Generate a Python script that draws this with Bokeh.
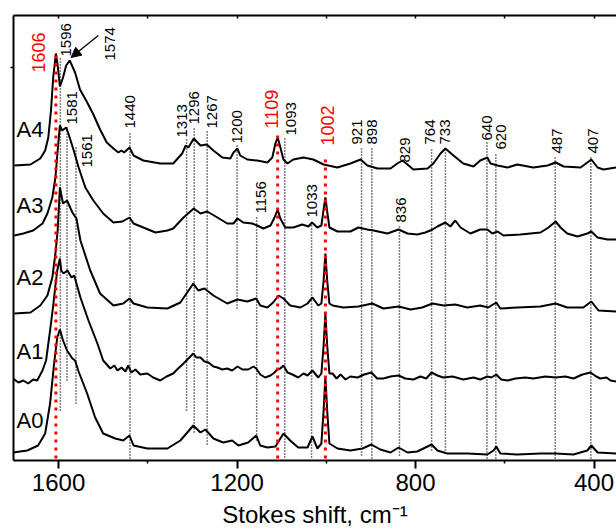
import numpy as np
from bokeh.plotting import figure
from bokeh.models import Range1d, LinearAxis, FixedTicker, Arrow, NormalHead
from bokeh.core.properties import value
from bokeh.embed import file_html
from bokeh.resources import INLINE

FONT = "Liberation Sans"

# ---------------- data ----------------
samples = ["A0", "A1", "A2", "A3", "A4"]
offsets = [0, 70, 140, 215, 285]

shift_A4 = [1699, 1663, 1641, 1630, 1623, 1617, 1612, 1606, 1602, 1597, 1590, 1583, 1575, 1568, 1563, 1552,
            1537, 1523, 1507, 1492, 1477, 1466, 1459, 1453, 1441, 1432, 1410, 1372, 1343, 1323, 1315, 1309,
            1297, 1282, 1268, 1253, 1233, 1215, 1208, 1199, 1193, 1177, 1155, 1132, 1121, 1114, 1109, 1104,
            1096, 1087, 1074, 1051, 1029, 1006, 975, 946, 923, 908, 885, 856, 841, 829, 818, 805, 773, 760,
            744, 733, 715, 693, 670, 655, 639, 632, 616, 594, 572, 536, 504, 486, 468, 430, 415, 406, 392,
            379, 350]
int_A4 = [10, 11, 17, 25, 38, 65, 98, 122, 110, 89, 98, 110, 115, 108, 103, 86,
          74, 62, 46, 33, 27, 23, 25, 23, 28, 20, 15, 12, 12, 22, 30, 28,
          37, 30, 31, 25, 18, 17, 23, 27, 20, 16, 15, 13, 18, 32, 38, 30,
          16, 12, 16, 18, 16, 11, 8, 12, 16, 10, 7, 7, 12, 15, 11, 6, 7, 12,
          22, 27, 20, 12, 9, 15, 18, 12, 10, 8, 11, 8, 10, 13, 9, 8, 13, 16, 8,
          6, 8]

shift_A3 = [1699, 1679, 1657, 1636, 1625, 1614, 1607, 1602, 1597, 1592, 1583, 1578, 1566, 1555, 1540, 1522,
            1500, 1477, 1457, 1441, 1432, 1410, 1383, 1356, 1343, 1320, 1297, 1282, 1267, 1244, 1222, 1208,
            1199, 1186, 1166, 1155, 1141, 1125, 1116, 1109, 1103, 1092, 1074, 1054, 1040, 1032, 1020, 1011,
            1006, 1002, 998, 993, 975, 946, 928, 908, 894, 863, 838, 818, 796, 778, 762, 751, 733, 722, 711,
            699, 677, 655, 639, 628, 616, 603, 565, 520, 502, 486, 475, 460, 437, 415, 406, 392, 370, 350]
int_A3 = [10, 12, 15, 22, 32, 48, 68, 95, 120, 115, 118, 112, 95, 78, 58, 45,
          32, 23, 24, 28, 22, 18, 13, 15, 17, 28, 37, 32, 34, 28, 22, 22,
          27, 23, 22, 20, 17, 20, 28, 36, 27, 18, 18, 21, 19, 23, 18, 20,
          36, 48, 34, 18, 14, 14, 18, 16, 15, 12, 16, 12, 11, 13, 16, 19, 23, 19, 25,
          18, 12, 16, 16, 12, 14, 10, 11, 13, 18, 24, 18, 12, 9, 12, 14, 8, 6, 6]

shift_A2 = [1699, 1663, 1641, 1625, 1614, 1607, 1602, 1597, 1590, 1581, 1569, 1560, 1551, 1529, 1507, 1477,
            1455, 1441, 1432, 1401, 1356, 1327, 1298, 1287, 1273, 1253, 1222, 1199, 1177, 1157, 1148, 1132,
            1119, 1107, 1096, 1081, 1058, 1042, 1031, 1018, 1011, 1006, 1002, 998, 993, 986, 962, 928, 897,
            872, 838, 811, 785, 762, 737, 711, 684, 655, 637, 619, 610, 572, 520, 486, 460, 424, 406, 390, 350]
int_A2 = [7, 8, 15, 25, 43, 67, 90, 133, 117, 120, 108, 102, 80, 50, 27, 15,
          17, 22, 17, 13, 12, 18, 37, 30, 32, 25, 17, 21, 19, 22, 15, 13,
          18, 25, 22, 15, 13, 17, 23, 15, 17, 40, 67, 40, 17, 15, 13, 14, 17,
          12, 14, 11, 13, 17, 15, 16, 13, 15, 13, 18, 12, 13, 14, 17, 13, 13, 19, 10, 9]

shift_A1 = [1702, 1690, 1679, 1668, 1657, 1648, 1636, 1628, 1619, 1612, 1607, 1603, 1597, 1594, 1589, 1580,
            1571, 1565, 1551, 1533, 1513, 1500, 1484, 1475, 1468, 1459, 1450, 1444, 1437, 1428, 1417, 1401,
            1388, 1372, 1358, 1343, 1332, 1320, 1309, 1298, 1291, 1282, 1273, 1264, 1253, 1244, 1233, 1222,
            1211, 1199, 1188, 1175, 1163, 1157, 1148, 1137, 1125, 1116, 1110, 1103, 1096, 1087, 1076, 1063,
            1051, 1042, 1031, 1018, 1011, 1006, 1002, 998, 993, 986, 977, 968, 957, 946, 930, 915, 899, 886,
            872, 856, 838, 823, 805, 789, 776, 764, 751, 738, 717, 693, 670, 655, 639, 630, 619, 608, 594,
            576, 554, 536, 509, 486, 464, 446, 426, 408, 395, 386, 372, 363, 350]
int_A1 = [12, 8, 10, 7, 11, 10, 20, 30, 60, 85, 105, 120, 132, 120, 117, 120,
          113, 115, 93, 70, 47, 30, 22, 25, 20, 23, 19, 25, 18, 21, 16, 17,
          13, 10, 14, 17, 22, 27, 32, 37, 33, 33, 29, 28, 24, 23, 21, 22,
          20, 24, 21, 21, 24, 22, 16, 13, 15, 18, 21, 22, 25, 18, 16, 13,
          17, 15, 20, 13, 17, 45, 77, 45, 17, 17, 12, 16, 11, 14, 13, 16, 18, 12,
          12, 14, 15, 12, 11, 14, 12, 18, 15, 13, 14, 11, 13, 11, 14, 13, 16, 11, 10,
          12, 13, 12, 14, 13, 14, 12, 16, 18, 14, 12, 13, 10, 9]

shift_A0 = [1702, 1670, 1646, 1630, 1619, 1610, 1603, 1597, 1590, 1581, 1569, 1563, 1556, 1536, 1518, 1500,
            1473, 1455, 1441, 1432, 1401, 1356, 1327, 1298, 1282, 1271, 1253, 1231, 1211, 1197, 1175, 1157,
            1148, 1132, 1114, 1096, 1081, 1063, 1042, 1031, 1020, 1011, 1006, 1002, 998, 993, 975, 946, 919,
            899, 879, 856, 838, 818, 796, 764, 751, 729, 684, 639, 625, 619, 610, 572, 520, 486, 446, 415,
            406, 392, 350]
int_A0 = [8, 10, 15, 27, 57, 97, 123, 131, 120, 110, 102, 100, 90, 67, 43, 27,
          22, 20, 25, 15, 12, 12, 20, 35, 28, 31, 22, 18, 20, 15, 18, 25,
          15, 13, 14, 27, 20, 13, 13, 24, 12, 17, 50, 84, 50, 17, 12, 10, 12,
          16, 11, 8, 13, 8, 9, 16, 10, 7, 7, 6, 10, 14, 7, 6, 7, 7, 6, 10,
          15, 8, 7]

spectra_shift = [shift_A0, shift_A1, shift_A2, shift_A3, shift_A4]
spectra_int = [int_A0, int_A1, int_A2, int_A3, int_A4]

x_ticks = [1600, 1200, 800, 400]
x_minor_ticks = [1400, 1000, 600]
x_top_ticks = [1600, 1400, 1200, 1000, 800, 600, 400]
x_title = "Stokes shift, cm⁻¹"

# peak assignments
peak_pos = [1606, 1596, 1581, 1561, 1440, 1313, 1296, 1267, 1200, 1156, 1109, 1093, 1033, 1002,
            921, 898, 836, 764, 733, 640, 620, 487, 407]
peak_text = [str(v) for v in peak_pos]
peak_red = [True, False, False, False, False, False, False, False, False, False, True, False, False, True,
            False, False, False, False, False, False, False, False, False]
extra_labels = ["1574", "829"]
extra_pos = [1574, 829]

# ---------------- layout of annotations ----------------
lab_dx = [-17, 6, 5, 11, 0, -5, 0, 5, 0, 4, -6, 6.5, 0, 2, -5, 0, 2, -2, 0, 0, 5.5, 2, 2]
lab_y = [388, 404, 336, 293, 332, 323, 336, 332, 317, 247, 332, 325, 243, 315, 316, 316, 238, 316, 316,
         320, 311, 307, 307]
line_top = [408, 403, 334, 315, 328, 323, 332, 330, 317, 245, 330, 322, 240, 305, 312, 312, 235, 312, 312,
            318, 308, 305, 305]
line_bot = [2, 50, 80, 57, 2, 50, 28, 16, 152, 20, 2, 3, 3, 2, 5, 2, 5, 10, 7, 2, 2, 2, 2]
extra_dx = [40, 2]
extra_y = [400, 298]
sample_label_y = [40, 109, 183, 255, 331]

# ---------------- figure ----------------
p = figure(width=616, height=530, x_range=Range1d(1701, 349.6), y_range=Range1d(0, 445),
           output_backend="svg", toolbar_location=None,
           x_axis_location=None, y_axis_location=None,
           min_border_left=13, min_border_right=0, min_border_top=15, min_border_bottom=70)
p.outline_line_color = None
p.background_fill_color = "white"
p.border_fill_color = "white"
for g in p.grid:
    g.visible = False

xb = LinearAxis(ticker=FixedTicker(ticks=x_ticks, minor_ticks=x_minor_ticks), axis_label=x_title)
xb.axis_line_width = 2
xb.major_tick_out = 8
xb.major_tick_in = 0
xb.minor_tick_out = 3
xb.minor_tick_in = 0
xb.major_tick_line_width = 2
xb.minor_tick_line_width = 1.5
xb.major_label_text_font = FONT
xb.major_label_text_font_size = "24px"
xb.major_label_text_color = "black"
xb.major_label_standoff = 5
xb.axis_label_text_font = FONT
xb.axis_label_text_font_size = "24px"
xb.axis_label_text_font_style = "normal"
xb.axis_label_text_color = "black"
xb.axis_label_standoff = 7
p.add_layout(xb, "below")

xt = LinearAxis(ticker=FixedTicker(ticks=x_top_ticks, minor_ticks=[]))
xt.axis_line_width = 2
xt.major_tick_in = 3
xt.major_tick_out = 0
xt.major_tick_line_width = 1.5
xt.major_label_text_font_size = "0px"
xt.major_label_text_color = None
xt.major_label_standoff = 0
p.add_layout(xt, "above")

yl = LinearAxis(ticker=FixedTicker(ticks=[393], minor_ticks=[]))
yl.axis_line_width = 2
yl.major_tick_in = 0
yl.major_tick_out = 3
yl.major_tick_line_width = 1.5
yl.major_label_text_font_size = "0px"
yl.major_label_text_color = None
yl.major_label_standoff = 0
p.add_layout(yl, "left")

# black dotted marker lines
bi = [i for i in range(len(peak_pos)) if not peak_red[i]]
ri = [i for i in range(len(peak_pos)) if peak_red[i]]
p.segment(x0=[peak_pos[i] for i in bi], y0=[line_bot[i] for i in bi],
          x1=[peak_pos[i] for i in bi], y1=[line_top[i] for i in bi],
          line_color="black", line_width=1.5, line_dash="1 2")

# spectra
for shifts, ints, off in zip(spectra_shift, spectra_int, offsets):
    p.line(x=shifts, y=np.array(ints, dtype=float) + off, line_color="black", line_width=2)

# red dotted marker lines
p.segment(x0=[peak_pos[i] for i in ri], y0=[line_bot[i] for i in ri],
          x1=[peak_pos[i] for i in ri], y1=[line_top[i] for i in ri],
          line_color="red", line_width=3, line_dash="3 5")

# peak labels
p.text(x=[peak_pos[i] for i in bi], y=[lab_y[i] for i in bi], text=[peak_text[i] for i in bi],
       x_offset=[lab_dx[i] for i in bi], angle=np.pi / 2,
       text_font=value(FONT), text_font_size="15px", text_color="black",
       text_align="left", text_baseline="middle")
p.text(x=extra_pos, y=extra_y, text=extra_labels, x_offset=extra_dx, angle=np.pi / 2,
       text_font=value(FONT), text_font_size="15px", text_color="black",
       text_align="left", text_baseline="middle")
p.text(x=[peak_pos[i] for i in ri], y=[lab_y[i] for i in ri], text=[peak_text[i] for i in ri],
       x_offset=[lab_dx[i] for i in ri], angle=np.pi / 2,
       text_font=value(FONT), text_font_size="18px", text_color="red",
       text_align="left", text_baseline="middle")

# arrow to the 1574 band
p.add_layout(Arrow(end=NormalHead(size=10, fill_color="black", line_color="black", line_width=1),
                   x_start=1511, y_start=425, x_end=1572, y_end=403,
                   line_color="black", line_width=1.3))

# sample names
p.text(x=[1694] * len(samples), y=sample_label_y, text=samples,
       text_font=value(FONT), text_font_size="22px", text_color="black",
       text_align="left", text_baseline="middle")

open("out.html", "w").write(file_html(p, INLINE))
